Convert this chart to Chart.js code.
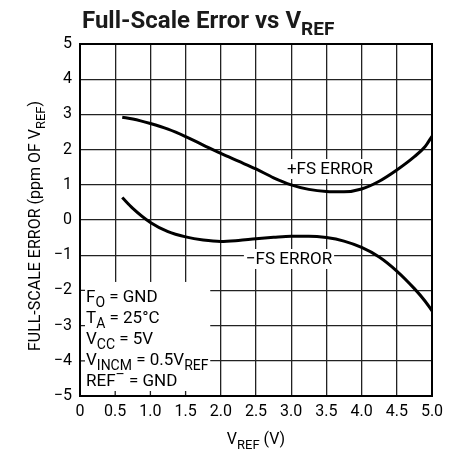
<!DOCTYPE html>
<html>
<head>
<meta charset="utf-8">
<script src="https://cdn.jsdelivr.net/npm/chart.js@4"></script>
<style>
  html, body { margin: 0; padding: 0; background: #fff; }
</style>
</head>
<body>
<canvas id="fsChart" width="463" height="456"></canvas>
<script>
// V_REF (V) sample points
const vref = [0.6, 0.75, 1.0, 1.25, 1.5, 1.75, 2.0, 2.25, 2.5, 2.75, 3.0, 3.25, 3.5, 3.75, 4.0, 4.25, 4.5, 4.75, 4.9, 5.0];
const plusFsError = [2.92, 2.87, 2.74, 2.58, 2.37, 2.13, 1.89, 1.67, 1.45, 1.2, 1.0, 0.87, 0.81, 0.8, 0.88, 1.1, 1.42, 1.8, 2.08, 2.38];
const minusFsError = [0.64, 0.33, -0.07, -0.33, -0.48, -0.57, -0.61, -0.58, -0.53, -0.49, -0.46, -0.46, -0.5, -0.6, -0.78, -1.05, -1.45, -1.95, -2.3, -2.58];
const xTicks = [0, 0.5, 1.0, 1.5, 2.0, 2.5, 3.0, 3.5, 4.0, 4.5, 5.0];
const yTicks = [-5, -4, -3, -2, -1, 0, 1, 2, 3, 4, 5];

const FONT = "'Liberation Sans Narrow', 'Roboto', sans-serif";

// draw text made of [text, mode] parts, mode '' / 'sub' / 'sup'
function drawParts(ctx, parts, x, y, size, weight, align) {
  const fontFor = (m) => `${weight} ${m ? Math.round(size * 0.8) : size}px ${FONT}`;
  let total = 0;
  parts.forEach(([t, m]) => { ctx.font = fontFor(m); total += ctx.measureText(t).width; });
  let cx = align === "center" ? x - total / 2 : align === "right" ? x - total : x;
  ctx.textAlign = "left";
  ctx.textBaseline = "alphabetic";
  parts.forEach(([t, m]) => {
    ctx.font = fontFor(m);
    const dy = m === "sub" ? size * 0.3 : m === "sup" ? -size * 0.4 : 0;
    ctx.fillText(t, cx, y + dy);
    cx += ctx.measureText(t).width;
  });
  return total;
}

const overlay = {
  id: "overlay",
  beforeDatasetsDraw(chart) {
    const { ctx, chartArea: a, scales: { x, y } } = chart;
    ctx.save();
    ctx.fillStyle = "#fff";

    // conditions box in the lower left
    const boxRight = x.getPixelForValue(1.85);
    const boxTop = y.getPixelForValue(-1.76);
    ctx.fillRect(a.left, boxTop, boxRight - a.left, a.bottom - boxTop);
    ctx.strokeStyle = "#222";
    ctx.lineWidth = 1.3;
    ctx.beginPath();
    [-2, -3, -4].forEach((v) => {
      const py = y.getPixelForValue(v);
      ctx.moveTo(a.left, py);
      ctx.lineTo(a.left + 5, py);
    });
    [0.5, 1.0, 1.5].forEach((v) => {
      const px = x.getPixelForValue(v);
      ctx.moveTo(px, a.bottom);
      ctx.lineTo(px, a.bottom - 5);
    });
    ctx.stroke();

    // curve labels on white
    ctx.font = `17px ${FONT}`;
    [["+FS ERROR", 330, 174], ["\u2212FS ERROR", 289, 264]].forEach(([t, cx, by]) => {
      const w = ctx.measureText(t).width;
      ctx.fillStyle = "#fff";
      ctx.fillRect(cx - w / 2 - 2, by - 15, w + 4, 20);
      ctx.fillStyle = "#000";
      ctx.textAlign = "center";
      ctx.textBaseline = "alphabetic";
      ctx.fillText(t, cx, by);
    });

    // frame
    ctx.strokeStyle = "#000";
    ctx.lineWidth = 2;
    ctx.strokeRect(a.left, a.top, a.right - a.left, a.bottom - a.top);

    // test conditions
    ctx.fillStyle = "#000";
    const lines = [
      [["F", ""], ["O", "sub"], [" = GND", ""]],
      [["T", ""], ["A", "sub"], [" = 25\u00B0C", ""]],
      [["V", ""], ["CC", "sub"], [" = 5V", ""]],
      [["V", ""], ["INCM", "sub"], [" = 0.5V", ""], ["REF", "sub"]],
      [["REF", ""], ["\u2013", "sup"], [" = GND", ""]],
    ];
    lines.forEach((parts, i) => drawParts(ctx, parts, a.left + 6, 302 + i * 21, 17, "normal", "left"));
    ctx.restore();
  },
  afterDraw(chart) {
    const { ctx, chartArea: a } = chart;
    ctx.save();
    ctx.fillStyle = "#1a1a1a";
    drawParts(ctx, [["Full-Scale Error vs V", ""], ["REF", "sub"]], 82, 28, 24, "bold", "left");
    ctx.fillStyle = "#000";
    drawParts(ctx, [["V", ""], ["REF", "sub"], [" (V)", ""]], (a.left + a.right) / 2, 444, 16, "normal", "center");
    ctx.translate(40, 226);
    ctx.rotate(-Math.PI / 2);
    drawParts(ctx, [["FULL-SCALE ERROR (ppm OF V", ""], ["REF", "sub"], [")", ""]], 0, 0, 16, "normal", "center");
    ctx.restore();
  },
};

const ctx = document.getElementById("fsChart").getContext("2d");

new Chart(ctx, {
  type: "line",
  data: {
    datasets: [
      {
        label: "+FS ERROR",
        data: vref.map((v, i) => ({ x: v, y: plusFsError[i] })),
        borderColor: "#000",
        borderWidth: 3,
        pointRadius: 0,
        cubicInterpolationMode: "monotone",
        fill: false,
      },
      {
        label: "\u2212FS ERROR",
        data: vref.map((v, i) => ({ x: v, y: minusFsError[i] })),
        borderColor: "#000",
        borderWidth: 3,
        pointRadius: 0,
        cubicInterpolationMode: "monotone",
        fill: false,
      },
    ],
  },
  options: {
    responsive: false,
    animation: false,
    events: [],
    layout: { padding: { top: 44, right: 31, left: 0, bottom: 0 } },
    plugins: {
      legend: { display: false },
      tooltip: { enabled: false },
    },
    scales: {
      x: {
        type: "linear",
        min: 0,
        max: 5,
        afterBuildTicks: (s) => { s.ticks = xTicks.map((v) => ({ value: v })); },
        afterFit: (s) => { s.height = 60; },
        ticks: {
          color: "#000",
          font: { family: FONT, size: 16 },
          padding: 6,
          maxRotation: 0,
          autoSkip: false,
          callback: (v) => (v === 0 ? "0" : v.toFixed(1)),
        },
        grid: { color: "#222", lineWidth: 1.3, drawTicks: false },
        border: { display: false },
      },
      y: {
        min: -5,
        max: 5,
        afterBuildTicks: (s) => { s.ticks = yTicks.map((v) => ({ value: v })); },
        afterFit: (s) => { s.width = 80; },
        ticks: {
          color: "#000",
          font: { family: FONT, size: 16 },
          padding: 8,
          callback: (v) => (v < 0 ? "\u2212" + -v : String(v)),
        },
        grid: { color: "#222", lineWidth: 1.3, drawTicks: false },
        border: { display: false },
      },
    },
  },
  plugins: [overlay],
});
</script>
</body>
</html>
